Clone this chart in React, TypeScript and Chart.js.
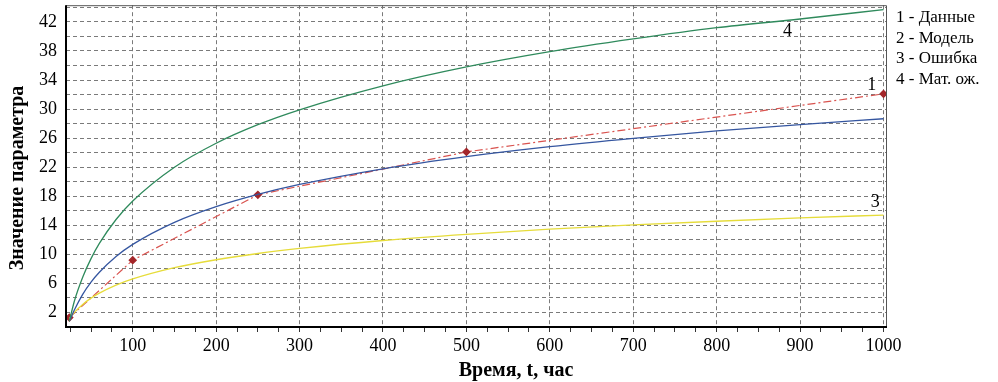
import React, { useEffect, useRef } from "react";
import { Chart, registerables } from "chart.js";

Chart.register(...registerables);

// ---- data ----
const curveT = [24, 30, 40, 50, 60, 80, 100, 150, 200, 250, 300, 400, 500, 600, 700, 800, 900, 1000];
const expectValues = [0.8, 3.55, 6.85, 9.41, 11.5, 14.8, 17.35, 22.0, 25.3, 27.85, 29.9, 33.2, 35.8, 37.9, 39.65, 41.2, 42.4, 43.7];
const modelValues = [0.8, 2.33, 4.49, 6.17, 7.53, 9.7, 11.37, 14.41, 16.57, 18.25, 19.62, 21.78, 23.46, 24.83, 25.98, 26.99, 27.87, 28.67];
const errorValues = [1.16, 2.02, 3.11, 3.97, 4.66, 5.76, 6.61, 8.16, 9.26, 10.12, 10.81, 11.91, 12.76, 13.46, 14.05, 14.56, 15.01, 15.41];
const dataT = [24, 100, 250, 500, 1000];
const dataValues = [1.3, 9.2, 18.2, 24.1, 32.1];

const legendLines = ["1 - Данные", "2 - Модель", "3 - Ошибка", "4 - Мат. ож."];
const curveLabels = [
  { text: "4", t: 885, v: 40.7 },
  { text: "1", t: 986, v: 33.3 },
  { text: "3", t: 990, v: 17.2 },
];
const xTitle = "Время, t, час";
const yTitle = "Значение параметра";

const SERIF = "'Liberation Serif', 'Times New Roman', serif";

const toXY = (xs: number[], ys: number[]) => xs.map((x, i) => ({ x, y: ys[i] }));

export default function App() {
  const ref = useRef<HTMLCanvasElement | null>(null);

  useEffect(() => {
    document.body.style.margin = "0";
    const canvas = ref.current;
    if (!canvas) return;

    const decor = {
      id: "decor",
      afterDraw(chart: any) {
        const { ctx, chartArea: a, scales } = chart;
        ctx.save();
        // frame
        ctx.strokeStyle = "#555";
        ctx.lineWidth = 1;
        ctx.beginPath();
        ctx.moveTo(a.left, a.top + 0.5);
        ctx.lineTo(a.right + 0.5, a.top + 0.5);
        ctx.lineTo(a.right + 0.5, a.bottom);
        ctx.stroke();
        ctx.strokeStyle = "#000";
        ctx.lineWidth = 2;
        ctx.beginPath();
        ctx.moveTo(a.left, a.top);
        ctx.lineTo(a.left, a.bottom);
        ctx.lineTo(a.right + 1, a.bottom);
        ctx.stroke();

        // curve labels
        ctx.fillStyle = "#000";
        ctx.font = `18px ${SERIF}`;
        ctx.textAlign = "center";
        ctx.textBaseline = "middle";
        curveLabels.forEach((l) => {
          ctx.fillText(l.text, scales.x.getPixelForValue(l.t), scales.y.getPixelForValue(l.v));
        });

        // legend text
        ctx.textAlign = "left";
        ctx.font = `17px ${SERIF}`;
        legendLines.forEach((s, i) => {
          ctx.fillText(s, a.right + 10, 18 + i * 20.5);
        });

        // axis titles
        ctx.font = `bold 20px ${SERIF}`;
        ctx.textAlign = "center";
        ctx.fillText(xTitle, 516, 371);
        ctx.save();
        ctx.translate(18, 178);
        ctx.rotate(-Math.PI / 2);
        ctx.fillText(yTitle, 0, 0);
        ctx.restore();
        ctx.restore();
      },
    };

    const chart = new Chart(canvas, {
      type: "line",
      data: {
        datasets: [
          {
            label: "4",
            data: toXY(curveT, expectValues),
            borderColor: "#2f8a5c",
            borderWidth: 1.3,
            pointRadius: 0,
            cubicInterpolationMode: "monotone",
          },
          {
            label: "2",
            data: toXY(curveT, modelValues),
            borderColor: "#3556a0",
            borderWidth: 1.3,
            pointRadius: 0,
            cubicInterpolationMode: "monotone",
          },
          {
            label: "3",
            data: toXY(curveT, errorValues),
            borderColor: "#e6dc3a",
            borderWidth: 1.3,
            pointRadius: 0,
            cubicInterpolationMode: "monotone",
          },
          {
            label: "1",
            data: toXY(dataT, dataValues),
            borderColor: "#d9534f",
            borderWidth: 1.2,
            borderDash: [8, 3, 2, 3],
            tension: 0,
            pointStyle: "rectRot",
            pointRadius: 3.5,
            pointBackgroundColor: "#a3262a",
            pointBorderColor: "#a3262a",
          },
        ],
      },
      options: {
        responsive: false,
        animation: false,
        events: [],
        layout: { padding: { left: 0, right: 112, top: 2, bottom: 0 } },
        plugins: { legend: { display: false }, tooltip: { enabled: false }, title: { display: false } },
        scales: {
          x: {
            type: "linear",
            min: 20,
            max: 1003,
            afterFit: (s: any) => {
              s.height = 55;
              s.paddingLeft = 0;
              s.paddingRight = 0;
            },
            afterBuildTicks: (s: any) => {
              const t = [];
              for (let v = 25; v <= 1000; v += 25) t.push({ value: v });
              s.ticks = t;
            },
            ticks: {
              autoSkip: false,
              maxRotation: 0,
              padding: 3,
              color: "#000",
              font: { family: SERIF, size: 18 },
              callback: (v: any) => (v % 100 === 0 ? String(v) : ""),
            },
            grid: {
              color: (c: any) => (c.tick && c.tick.value % 100 === 0 ? "#7a7a7a" : "rgba(0,0,0,0)"),
              tickColor: "#333",
              tickLength: 5,
              lineWidth: 1,
            },
            border: { display: false, dash: [4, 3] },
          },
          y: {
            type: "linear",
            min: 0,
            max: 44.3,
            afterFit: (s: any) => {
              s.width = 66;
              s.paddingTop = 0;
              s.paddingBottom = 0;
            },
            afterBuildTicks: (s: any) => {
              const t = [];
              for (let v = 0; v <= 44; v += 2) t.push({ value: v });
              s.ticks = t;
            },
            ticks: {
              autoSkip: false,
              padding: 9,
              color: "#000",
              font: { family: SERIF, size: 18 },
              callback: (v: any) => ((v - 2) % 4 === 0 ? String(v) : ""),
            },
            grid: {
              color: "#7a7a7a",
              drawTicks: false,
              lineWidth: 1,
            },
            border: { display: false, dash: [4, 3] },
          },
        },
      },
      plugins: [decor],
    } as any);

    return () => chart.destroy();
  }, []);

  return (
    <div style={{ width: 998, height: 382, position: "relative" }}>
      <canvas ref={ref} width={998} height={382} style={{ display: "block", width: 998, height: 382 }} />
    </div>
  );
}
